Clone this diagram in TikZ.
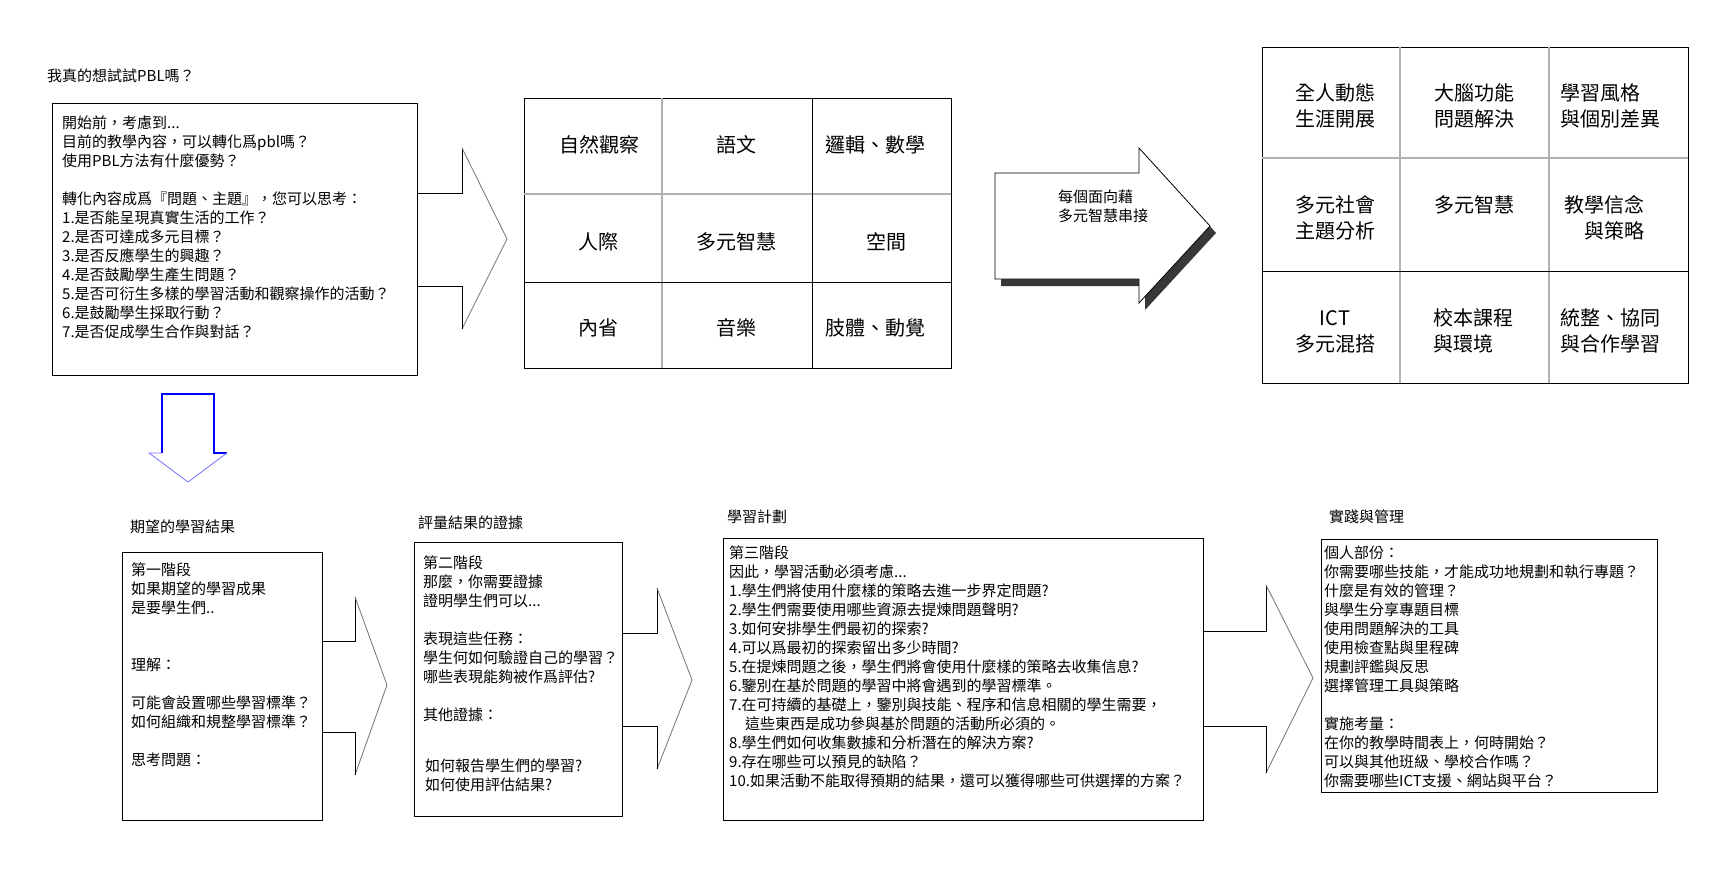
\documentclass[tikz,border=0pt]{standalone}
\usepackage{fontspec}
\setmainfont{Noto Sans CJK TC}
\newcommand\ltab[1]{\begin{tabular}[t]{@{}l@{}}#1\end{tabular}}
\newcommand\ctab[1]{\begin{tabular}[t]{@{}c@{}}#1\end{tabular}}
\newcommand\rtab[1]{\begin{tabular}[t]{@{}r@{}}#1\end{tabular}}
\begin{document}
\begin{tikzpicture}[x=1pt,y=-1pt,
 box/.style={draw=black, line width=1pt, inner sep=0pt, anchor=north west},
 outline/.style={draw=black, line width=0.9pt, line join=miter},
 diag/.style={draw=black!55, line width=0.8pt},
 txt/.style={inner sep=0pt, anchor=base west, font=\fontsize{15}{19}\selectfont},
 big/.style={inner sep=0pt, font=\fontsize{20}{25.5}\selectfont},
 greyline/.style={draw=black!30, line width=1.5pt},
 blackline/.style={draw=black, line width=1pt}]

\fill[white] (0,0) rectangle (1733,868);
\useasboundingbox (0,0) rectangle (1733,868);

% ---------- top left ----------
\node[txt] (t0) at (47,81) {我真的想試試PBL嗎？};
\draw[outline] (417,193) -- (462,193) -- (462,148);
\draw[diag] (462,148) -- (507,239) -- (462,329);
\draw[outline] (462,329) -- (462,286) -- (417,286);
\node[box, minimum width=365, minimum height=272] (boxA) at (52,103) {};
\node[txt] (tA) at (62,128) {\ltab{開始前，考慮到...\\
目前的教學內容，可以轉化爲pbl嗎？\\
使用PBL方法有什麼優勢？\\
\\
轉化內容成爲『問題、主題』，您可以思考：\\
1.是否能呈現真實生活的工作？\\
2.是否可達成多元目標？\\
3.是否反應學生的興趣？\\
4.是否鼓勵學生產生問題？\\
5.是否可衍生多樣的學習活動和觀察操作的活動？\\
6.是鼓勵學生採取行動？\\
7.是否促成學生合作與對話？}};

% down arrow
\draw[draw=blue, line width=1.2pt] (162,453) -- (162,394) -- (214,394) -- (214,453) -- (227,453);
\draw[draw=blue!55, line width=0.8pt] (227,453) -- (188,482) -- (149,453) -- (162,453);

% ---------- grid 1 ----------
\node[box, minimum width=427, minimum height=270] (g1) at (524,98) {};
\draw[greyline] (662,98) -- (662,368);
\draw[greyline] (524,194) -- (951,194);
\draw[blackline] (812,98) -- (812,368);
\draw[blackline] (524,282) -- (951,282);
\node[big, anchor=base] (c11) at (599,152.6) {自然觀察};
\node[big, anchor=base] (c12) at (736,152.6) {語文};
\node[big, anchor=base] (c13) at (875,152.6) {邏輯、數學};
\node[big, anchor=base] (c21) at (598,249.6) {人際};
\node[big, anchor=base] (c22) at (736,249.6) {多元智慧};
\node[big, anchor=base] (c23) at (886,249.6) {空間};
\node[big, anchor=base] (c31) at (598,335.6) {內省};
\node[big, anchor=base] (c32) at (736,335.6) {音樂};
\node[big, anchor=base] (c33) at (875,335.6) {肢體、動覺};

% ---------- middle arrow ----------
\fill[black!78] (1001,180) -- (1145,180) -- (1145,155) -- (1216,233) -- (1145,310) -- (1145,286) -- (1001,286) -- cycle;
\filldraw[fill=white, draw=black, line width=0.8pt] (995,173) -- (1139,173) -- (1139,148) -- (1210,226) -- (1139,303) -- (1139,279) -- (995,279) -- cycle;
\node[txt] (tM) at (1058,202) {\ltab{每個面向藉\\多元智慧串接}};

% ---------- grid 2 ----------
\node[box, minimum width=426, minimum height=336] (g2) at (1262,47) {};
\draw[greyline] (1400,47) -- (1400,383);
\draw[greyline] (1549,47) -- (1549,383);
\draw[greyline] (1262,158) -- (1688,158);
\draw[blackline] (1262,271) -- (1688,271);
\node[big, anchor=base] (d11) at (1335,100.6) {\ctab{全人動態\\生涯開展}};
\node[big, anchor=base] (d12) at (1474,100.6) {\ctab{大腦功能\\問題解決}};
\node[big, anchor=base west] (d13) at (1560,100.6) {\ltab{學習風格\\與個別差異}};
\node[big, anchor=base] (d21) at (1335,212.6) {\ctab{多元社會\\主題分析}};
\node[big, anchor=base] (d22) at (1474,212.6) {多元智慧};
\node[big, anchor=base east] (d23) at (1645,212.6) {\rtab{教學信念\\與策略}};
\node[big, anchor=base] (d31) at (1335,325.6) {\ctab{ICT\\多元混搭}};
\node[big, anchor=base west] (d32) at (1433,325.6) {\ltab{校本課程\\與環境}};
\node[big, anchor=base west] (d33) at (1560,325.6) {\ltab{統整、協同\\與合作學習}};

% ---------- bottom stage 1 ----------
\node[txt] (s1t) at (130,532) {期望的學習結果};
\draw[outline] (322,641) -- (355,641) -- (355,597);
\draw[diag] (355,597) -- (387,685) -- (355,775);
\draw[outline] (355,775) -- (355,732) -- (322,732);
\node[box, minimum width=200, minimum height=268] (b1) at (122,552) {};
\node[txt] (s1x) at (131,575) {\ltab{第一階段\\
如果期望的學習成果\\
是要學生們..\\
\\
\\
理解：\\
\\
可能會設置哪些學習標準？\\
如何組織和規整學習標準？\\
\\
思考問題：}};

% ---------- bottom stage 2 ----------
\node[txt] (s2t) at (418,528) {評量結果的證據};
\draw[outline] (622,633) -- (657,633) -- (657,588);
\draw[diag] (657,588) -- (692,680) -- (657,769);
\draw[outline] (657,769) -- (657,726) -- (622,726);
\node[box, minimum width=208, minimum height=274] (b2) at (414,542) {};
\node[txt] (s2x) at (423,568) {\ltab{第二階段\\
那麼，你需要證據\\
證明學生們可以...\\
\\
表現這些任務：\\
學生何如何驗證自己的學習？\\
哪些表現能夠被作爲評估?\\
\\
其他證據：}};
\node[txt] (s2y) at (425,771) {\ltab{如何報告學生們的學習?\\
如何使用評估結果?}};

% ---------- bottom stage 3 ----------
\node[txt] (s3t) at (727,522) {學習計劃};
\draw[outline] (1203,631) -- (1266,631) -- (1266,585);
\draw[diag] (1266,585) -- (1313,678) -- (1266,773);
\draw[outline] (1266,773) -- (1266,726) -- (1203,726);
\node[box, minimum width=480, minimum height=282] (b3) at (723,538) {};
\node[txt] (s3x) at (729,558) {\ltab{第三階段\\
因此，學習活動必須考慮...\\
1.學生們將使用什麼樣的策略去進一步界定問題?\\
2.學生們需要使用哪些資源去提煉問題聲明?\\
3.如何安排學生們最初的探索?\\
4.可以爲最初的探索留出多少時間?\\
5.在提煉問題之後，學生們將會使用什麼樣的策略去收集信息?\\
6.鑒別在基於問題的學習中將會遇到的學習標準。\\
7.在可持續的基礎上，鑒別與技能、程序和信息相關的學生需要，\\
\hspace{16pt}這些東西是成功參與基於問題的活動所必須的。\\
8.學生們如何收集數據和分析潛在的解決方案?\\
9.存在哪些可以預見的缺陷？\\
10.如果活動不能取得預期的結果，還可以獲得哪些可供選擇的方案？}};

% ---------- bottom stage 4 ----------
\node[txt] (s4t) at (1329,522) {實踐與管理};
\node[box, minimum width=336, minimum height=253] (b4) at (1321,539) {};
\node[txt] (s4x) at (1324,558) {\ltab{個人部份：\\
你需要哪些技能，才能成功地規劃和執行專題？\\
什麼是有效的管理？\\
與學生分享專題目標\\
使用問題解決的工具\\
使用檢查點與里程碑\\
規劃評鑑與反思\\
選擇管理工具與策略\\
\\
實施考量：\\
在你的教學時間表上，何時開始？\\
可以與其他班級、學校合作嗎？\\
你需要哪些ICT支援、網站與平台？}};
\end{tikzpicture}
\end{document}
